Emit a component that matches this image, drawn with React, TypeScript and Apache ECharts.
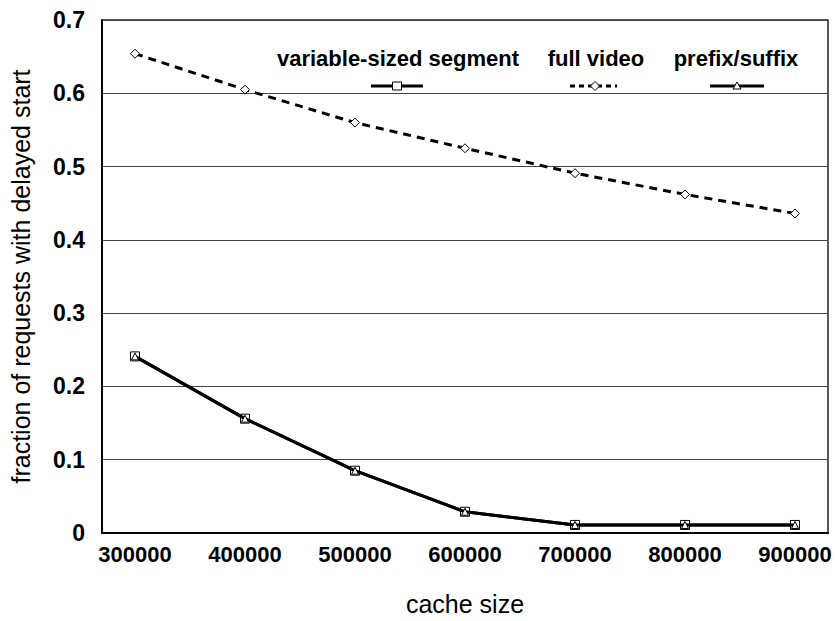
import React, { useEffect, useRef } from "react";
import * as echarts from "echarts";

const cacheSizes = [300000, 400000, 500000, 600000, 700000, 800000, 900000];
const variableSegment = [0.241, 0.156, 0.085, 0.029, 0.011, 0.011, 0.011];
const fullVideo = [0.654, 0.605, 0.560, 0.525, 0.491, 0.462, 0.436];
const prefixSuffix = [0.241, 0.156, 0.085, 0.029, 0.011, 0.011, 0.011];
const seriesNames = ["variable-sized segment", "full video", "prefix/suffix"];

const FONT = "'Liberation Sans', Arial, Helvetica, sans-serif";

function pairs(vals: number[]) {
  return cacheSizes.map((x, i) => [x, vals[i]]);
}

export default function App() {
  const ref = useRef<HTMLDivElement>(null);
  useEffect(() => {
    if (!ref.current) return;
    const chart = echarts.init(ref.current, undefined, { renderer: "svg" });
    const legendY = 86;
    const textY = 58;
    const textStyle = (text: string) => ({
      text,
      font: `bold 22px ${FONT}`,
      fill: "#000",
      textAlign: "center",
      textVerticalAlign: "middle",
    });
    chart.setOption({
      animation: false,
      backgroundColor: "#fff",
      grid: {
        left: 101,
        right: 10,
        top: 20,
        bottom: 88,
        show: true,
        borderColor: "#222",
        borderWidth: 1.5,
      },
      xAxis: {
        type: "value",
        min: 270000,
        max: 930000,
        interval: 10000,
        name: "cache size",
        nameLocation: "middle",
        nameGap: 58,
        nameTextStyle: { fontFamily: FONT, fontSize: 25, color: "#000" },
        axisLine: { show: true, lineStyle: { color: "#000", width: 2 } },
        axisTick: { show: false },
        splitLine: { show: false },
        axisLabel: {
          margin: 10,
          fontFamily: FONT,
          fontSize: 22,
          fontWeight: "bold",
          color: "#000",
          formatter: (v: number) => (v % 100000 === 0 && v >= 300000 && v <= 900000 ? String(v) : ""),
        },
      },
      yAxis: {
        type: "value",
        min: 0,
        max: 0.7,
        interval: 0.1,
        name: "fraction of requests with delayed start",
        nameLocation: "middle",
        nameGap: 69,
        nameTextStyle: { fontFamily: FONT, fontSize: 25, color: "#000" },
        axisLine: { show: true, lineStyle: { color: "#000", width: 2 } },
        axisTick: { show: false },
        splitLine: { show: true, lineStyle: { color: "#444", width: 1.2 } },
        axisLabel: {
          margin: 17,
          fontFamily: FONT,
          fontSize: 23,
          fontWeight: "bold",
          color: "#000",
          formatter: (v: number) => (v === 0 ? "0" : v.toFixed(1)),
        },
      },
      series: [
        {
          name: seriesNames[0],
          type: "line",
          data: pairs(variableSegment),
          symbol: "rect",
          symbolSize: 9,
          showAllSymbol: true,
          lineStyle: { color: "#000", width: 3 },
          itemStyle: { color: "#fff", borderColor: "#000", borderWidth: 1 },
          z: 2,
        },
        {
          name: seriesNames[1],
          type: "line",
          data: pairs(fullVideo),
          symbol: "diamond",
          symbolSize: [9, 9],
          lineStyle: { color: "#000", width: 3, type: [8, 6] },
          itemStyle: { color: "#fff", borderColor: "#000", borderWidth: 1 },
          z: 2,
        },
        {
          name: seriesNames[2],
          type: "line",
          data: pairs(prefixSuffix),
          symbol: "triangle",
          symbolSize: 7,
          lineStyle: { color: "#000", width: 3 },
          itemStyle: { color: "#fff", borderColor: "#000", borderWidth: 1 },
          z: 3,
        },
      ],
      graphic: [
        { type: "text", x: 398, y: textY, style: textStyle(seriesNames[0]) },
        { type: "text", x: 596, y: textY, style: textStyle(seriesNames[1]) },
        { type: "text", x: 736, y: textY, style: textStyle(seriesNames[2]) },
        { type: "line", shape: { x1: 371, y1: legendY, x2: 423, y2: legendY }, style: { stroke: "#000", lineWidth: 3 } },
        { type: "rect", shape: { x: 392.5, y: legendY - 4, width: 9, height: 8 }, style: { fill: "#fff", stroke: "#000", lineWidth: 1 } },
        { type: "line", shape: { x1: 570, y1: legendY, x2: 617, y2: legendY }, style: { stroke: "#000", lineWidth: 3, lineDash: [5, 4] } },
        { type: "polygon", shape: { points: [[595, legendY - 4.5], [599.5, legendY], [595, legendY + 4.5], [590.5, legendY]] }, style: { fill: "#fff", stroke: "#000", lineWidth: 1 } },
        { type: "line", shape: { x1: 710, y1: legendY, x2: 764, y2: legendY }, style: { stroke: "#000", lineWidth: 3 } },
        { type: "polygon", shape: { points: [[737, legendY - 4], [741, legendY + 3], [733, legendY + 3]] }, style: { fill: "#fff", stroke: "#000", lineWidth: 1 } },
      ],
    });
    return () => chart.dispose();
  }, []);
  return <div ref={ref} style={{ position: "fixed", left: 0, top: 0, width: 838, height: 621 }} />;
}
